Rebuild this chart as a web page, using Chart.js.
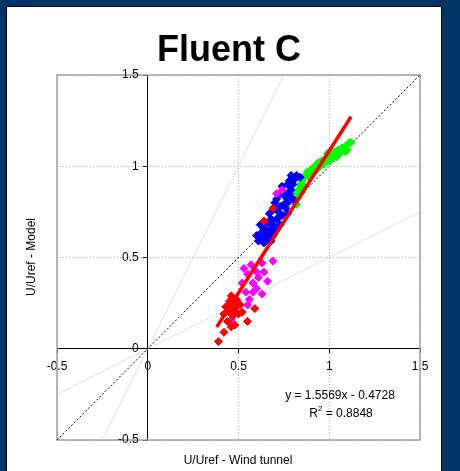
<!DOCTYPE html>
<html>
<head>
<meta charset="utf-8">
<script src="https://cdn.jsdelivr.net/npm/chart.js@4"></script>
<style>
  html, body { margin: 0; padding: 0; background: #003366; }
  canvas { display: block; }
</style>
</head>
<body>
<canvas id="chart" width="460" height="471"></canvas>
<script>
// Fluent C: model vs wind tunnel, U/Uref

const xTicks = [-0.5, 0, 0.5, 1, 1.5];
const yTicks = [-0.5, 0, 0.5, 1, 1.5];

const redPoints = [
  [0.39, 0.04], [0.42, 0.09], [0.48, 0.13], [0.55, 0.15], [0.59, 0.22], [0.47, 0.18],
  [0.45, 0.20], [0.47, 0.24], [0.50, 0.19], [0.44, 0.15], [0.43, 0.23], [0.49, 0.27],
  [0.51, 0.24], [0.46, 0.29], [0.45, 0.26], [0.48, 0.22], [0.46, 0.12], [0.52, 0.20],
  [0.42, 0.19], [0.64, 0.70], [0.69, 0.77]
];
const magentaPoints = [
  [0.69, 0.48], [0.63, 0.47], [0.57, 0.46], [0.55, 0.41], [0.64, 0.42], [0.66, 0.37],
  [0.52, 0.36], [0.58, 0.36], [0.54, 0.31], [0.58, 0.31], [0.63, 0.30], [0.55, 0.24],
  [0.50, 0.25], [0.46, 0.16], [0.60, 0.42], [0.60, 0.33], [0.56, 0.27], [0.61, 0.39],
  [0.53, 0.44], [0.48, 0.21], [0.71, 0.85], [0.74, 0.87]
];
const bluePoints = [
  [0.61, 0.59], [0.64, 0.58], [0.67, 0.60], [0.63, 0.64], [0.67, 0.65], [0.69, 0.68],
  [0.62, 0.68], [0.71, 0.71], [0.67, 0.74], [0.72, 0.75], [0.70, 0.80], [0.75, 0.79],
  [0.76, 0.83], [0.74, 0.89], [0.79, 0.87], [0.78, 0.92], [0.81, 0.93], [0.84, 0.94],
  [0.80, 0.82], [0.77, 0.74], [0.73, 0.68], [0.60, 0.62], [0.69, 0.63], [0.73, 0.85],
  [0.66, 0.62], [0.70, 0.77], [0.62, 0.60], [0.65, 0.61], [0.68, 0.59], [0.64, 0.66],
  [0.70, 0.66], [0.66, 0.69], [0.72, 0.72], [0.68, 0.71], [0.74, 0.73], [0.69, 0.76],
  [0.73, 0.78], [0.76, 0.77], [0.71, 0.82], [0.77, 0.80], [0.75, 0.86], [0.78, 0.85],
  [0.77, 0.90], [0.80, 0.90], [0.82, 0.95], [0.79, 0.95]
];
const greenPoints = [
  [0.81, 0.84], [0.83, 0.87], [0.85, 0.92], [0.87, 0.95], [0.84, 0.90], [0.90, 0.97],
  [0.92, 1.00], [0.94, 1.02], [0.96, 1.03], [0.98, 1.04], [1.00, 1.06], [1.03, 1.08],
  [1.05, 1.09], [1.07, 1.10], [1.09, 1.11], [1.12, 1.13], [1.09, 1.08], [1.04, 1.05],
  [0.95, 1.00], [1.00, 1.03], [0.86, 0.89], [0.82, 0.79], [0.86, 0.94], [0.88, 0.97],
  [0.91, 0.99], [0.93, 0.98], [0.97, 1.01], [0.99, 1.07], [1.02, 1.05], [1.06, 1.07],
  [1.10, 1.09], [1.11, 1.13], [0.83, 0.83], [0.85, 0.86], [0.89, 0.94]
];

// trend line y = 1.5569x - 0.4728, drawn over the data range
const trendLine = [[0.38, 0.119], [1.12, 1.271]];
// reference lines y = x, y = 2x, y = 0.5x
const lineOneToOne = [[-0.5, -0.5], [1.5, 1.5]];
const lineDouble = [[-0.25, -0.5], [0.75, 1.5]];
const lineHalf = [[-0.5, -0.25], [1.5, 0.75]];

const eqText = 'y = 1.5569x - 0.4728';
const r2Text = '0.8848';

const FONT = '"Liberation Sans", Arial, sans-serif';
const toXY = arr => arr.map(p => ({ x: p[0], y: p[1] }));

function pointSet(data, color) {
  return {
    data: toXY(data),
    backgroundColor: color,
    borderColor: color,
    borderWidth: 1,
    pointStyle: 'rectRot',
    pointRadius: 4,
    showLine: false,
    order: 1
  };
}

function refSet(data, color, dash) {
  return {
    data: toXY(data),
    showLine: true,
    borderColor: color,
    borderWidth: 1,
    borderDash: dash,
    pointRadius: 0,
    order: 2
  };
}

// background panel, frame, title, axis titles, y tick labels, equation
const decor = {
  id: 'decor',
  beforeDraw(chart) {
    const ctx = chart.ctx;
    ctx.save();
    ctx.fillStyle = '#003366';
    ctx.fillRect(0, 0, chart.width, chart.height);
    ctx.fillStyle = '#ffffff';
    ctx.fillRect(6, 6, 436, 470);
    ctx.strokeStyle = '#000000';
    ctx.lineWidth = 1;
    ctx.strokeRect(6.5, 6.5, 435, 470);
    ctx.fillStyle = '#000000';
    ctx.font = 'bold 36px ' + FONT;
    ctx.textAlign = 'center';
    ctx.textBaseline = 'alphabetic';
    ctx.fillText('Fluent C', 229, 61);
    ctx.restore();
  },
  beforeDatasetsDraw(chart) {
    const ctx = chart.ctx;
    const a = chart.chartArea;
    ctx.save();
    ctx.strokeStyle = '#a0a0a0';
    ctx.lineWidth = 1.5;
    ctx.strokeRect(a.left, a.top, a.right - a.left, a.bottom - a.top);
    ctx.restore();
  },
  afterDraw(chart) {
    const ctx = chart.ctx;
    const xs = chart.scales.x, ys = chart.scales.y;
    ctx.save();
    ctx.fillStyle = '#000000';
    ctx.font = '12px ' + FONT;
    ctx.textAlign = 'center';
    ctx.textBaseline = 'middle';
    ctx.fillText('U/Uref - Wind tunnel', 238, 461);
    // y tick labels sit left of the y axis (which crosses at x = 0)
    ctx.textAlign = 'right';
    const x0 = xs.getPixelForValue(0);
    yTicks.forEach(v => ctx.fillText(String(v), x0 - 9, ys.getPixelForValue(v)));
    ctx.textAlign = 'center';
    ctx.translate(32, 257);
    ctx.rotate(-Math.PI / 2);
    ctx.fillText('U/Uref - Model', 0, 0);
    ctx.restore();

    ctx.save();
    ctx.fillStyle = '#000000';
    ctx.font = '12px ' + FONT;
    ctx.textBaseline = 'middle';
    ctx.textAlign = 'center';
    ctx.fillText(eqText, 340, 396);
    // R² line with superscript
    ctx.textAlign = 'left';
    const wR = ctx.measureText('R').width;
    const wRest = ctx.measureText(' = ' + r2Text).width;
    ctx.font = '8px ' + FONT;
    const w2 = ctx.measureText('2').width;
    const x = 341 - (wR + w2 + wRest) / 2;
    ctx.font = '12px ' + FONT;
    ctx.fillText('R', x, 414);
    ctx.font = '8px ' + FONT;
    ctx.fillText('2', x + wR, 409);
    ctx.font = '12px ' + FONT;
    ctx.fillText(' = ' + r2Text, x + wR + w2, 414);
    ctx.restore();
  }
};

new Chart(document.getElementById('chart'), {
  type: 'scatter',
  data: {
    datasets: [
      {
        data: toXY(trendLine),
        showLine: true,
        borderColor: '#ff0000',
        borderWidth: 3.5,
        pointRadius: 0,
        order: 0
      },
      pointSet(redPoints, '#ff0000'),
      pointSet(magentaPoints, '#ff00ff'),
      pointSet(bluePoints, '#0000ff'),
      pointSet(greenPoints, '#00ff00'),
      refSet(lineOneToOne, '#000000', [2, 2]),
      refSet(lineDouble, '#c0c0c0', [1, 1]),
      refSet(lineHalf, '#c0c0c0', [1, 1])
    ]
  },
  options: {
    responsive: false,
    animation: false,
    layout: { padding: { left: 57, top: 75, right: 40, bottom: 31 } },
    plugins: {
      legend: { display: false },
      tooltip: { enabled: false },
      title: { display: false }
    },
    scales: {
      x: {
        type: 'linear',
        position: { y: 0 },
        min: xTicks[0],
        max: xTicks[xTicks.length - 1],
        afterBuildTicks: s => { s.ticks = xTicks.map(v => ({ value: v })); },
        grid: { color: '#b0b0b0', tickColor: '#000000', tickLength: 4 },
        border: { color: '#000000', width: 1, dash: [1, 2] },
        ticks: {
          color: '#000000',
          font: { family: FONT, size: 12 },
          padding: 7,
          maxRotation: 0,
          callback: v => String(v)
        }
      },
      y: {
        type: 'linear',
        position: { x: 0 },
        min: yTicks[0],
        max: yTicks[yTicks.length - 1],
        afterBuildTicks: s => { s.ticks = yTicks.map(v => ({ value: v })); },
        grid: { color: '#b0b0b0', tickColor: '#000000', tickLength: 4 },
        border: { color: '#000000', width: 1, dash: [1, 2] },
        ticks: { display: false }
      }
    }
  },
  plugins: [decor]
});
</script>
</body>
</html>
